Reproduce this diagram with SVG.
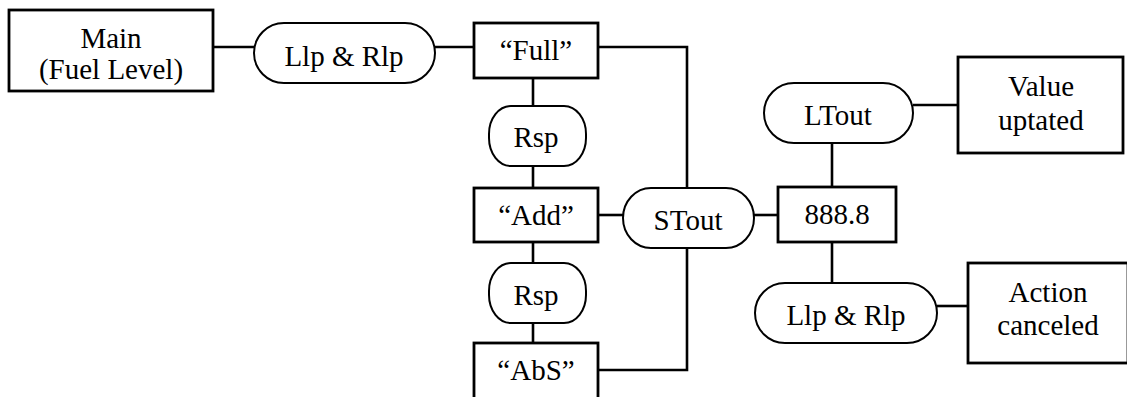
<svg xmlns="http://www.w3.org/2000/svg" width="1127" height="397" viewBox="0 0 1127 397">
<style>
.box{fill:#fff;stroke:#000;stroke-width:2.8}
.pill{fill:#fff;stroke:#000;stroke-width:2}
.t{font-family:'Liberation Serif','Times New Roman',serif;font-size:29px;fill:#000;text-anchor:middle}
.c{fill:none;stroke:#000;stroke-width:2.6}
</style>
<rect width="1127" height="397" fill="#fff"/>
<g id="connectors">
<line class="c" x1="213" y1="47" x2="254" y2="47"/>
<line class="c" x1="435" y1="47" x2="474" y2="47"/>
<polyline class="c" points="598,47 687,47 687,188"/>
<line class="c" x1="533" y1="78" x2="533" y2="106"/>
<line class="c" x1="533" y1="166" x2="533" y2="188"/>
<line class="c" x1="598" y1="215" x2="623" y2="215"/>
<line class="c" x1="533" y1="242" x2="533" y2="263"/>
<line class="c" x1="533" y1="323" x2="533" y2="343"/>
<polyline class="c" points="598,370 687,370 687,248"/>
<line class="c" x1="754" y1="215" x2="778" y2="215"/>
<line class="c" x1="832" y1="143" x2="832" y2="187"/>
<line class="c" x1="913" y1="105" x2="958" y2="105"/>
<line class="c" x1="832" y1="242" x2="832" y2="283"/>
<line class="c" x1="937" y1="306" x2="968" y2="306"/>
</g>
<g id="main"><rect class="box" x="9" y="10" width="204" height="81"/><text class="t" x="111" y="48">Main</text><text class="t" x="111" y="79">(Fuel Level)</text></g>
<g id="llprlp1"><rect class="pill" x="254" y="23" width="181" height="60" rx="30" ry="30"/><text class="t" x="344" y="66">Llp &amp; Rlp</text></g>
<g id="full"><rect class="box" x="474" y="23" width="124" height="55"/><text class="t" x="536" y="60">“Full”</text></g>
<g id="rsp1"><rect class="pill" x="489" y="106" width="97" height="60" rx="22" ry="28"/><text class="t" x="536" y="147">Rsp</text></g>
<g id="add"><rect class="box" x="474" y="188" width="124" height="54"/><text class="t" x="536" y="225">“Add”</text></g>
<g id="rsp2"><rect class="pill" x="489" y="263" width="97" height="60" rx="22" ry="28"/><text class="t" x="536" y="305">Rsp</text></g>
<g id="abs"><rect class="box" x="474" y="343" width="124" height="60"/><text class="t" x="536" y="380">“AbS”</text></g>
<g id="stout"><rect class="pill" x="623" y="188" width="131" height="60" rx="28" ry="30"/><text class="t" x="688" y="230">STout</text></g>
<g id="val888"><rect class="box" x="778" y="187" width="118" height="55"/><text class="t" x="837" y="224">888.8</text></g>
<g id="ltout"><rect class="pill" x="764" y="83" width="149" height="60" rx="30" ry="30"/><text class="t" x="838" y="125">LTout</text></g>
<g id="value"><rect class="box" x="958" y="57" width="165" height="96"/><text class="t" x="1041" y="96">Value</text><text class="t" x="1041" y="130">uptated</text></g>
<g id="llprlp2"><rect class="pill" x="755" y="283" width="182" height="60" rx="30" ry="30"/><text class="t" x="846" y="325">Llp &amp; Rlp</text></g>
<g id="action"><rect class="box" x="968" y="263" width="160" height="100"/><text class="t" x="1048" y="302">Action</text><text class="t" x="1048" y="335">canceled</text></g>
</svg>
